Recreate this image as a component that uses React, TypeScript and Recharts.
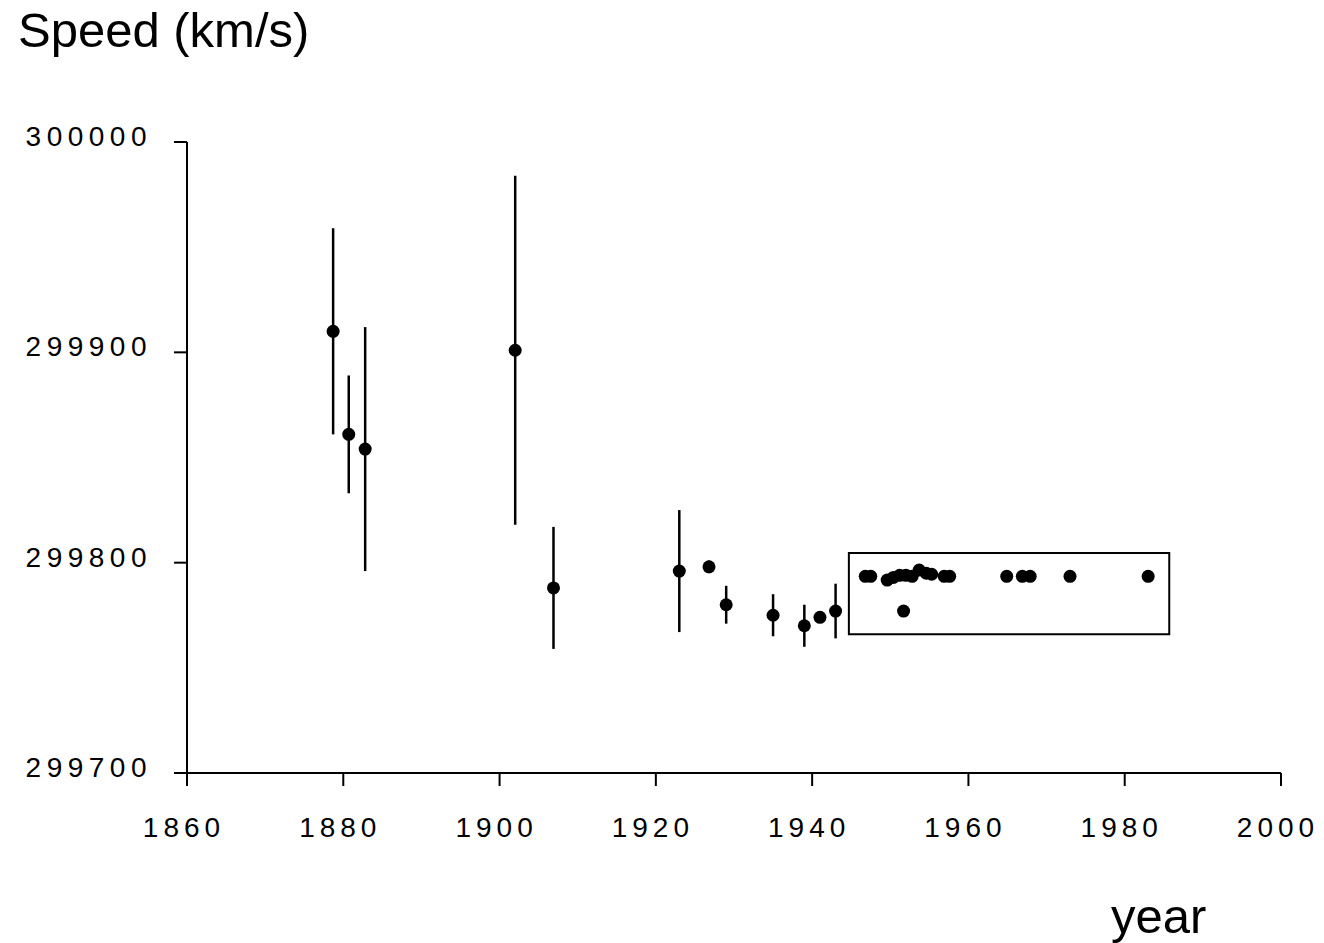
import React from 'react';
import { ScatterChart, Scatter, XAxis, YAxis, ErrorBar, ReferenceArea } from 'recharts';

// Measurement year, measured speed of light (km/s) and its uncertainty (km/s)
const years = [
  1878.7, 1880.7, 1882.8, 1902.0, 1906.9, 1923.0, 1926.8, 1929.0, 1935.0, 1939.0, 1941.0, 1943.0,
  1946.8, 1947.5, 1949.6, 1950.4, 1951.2, 1951.7, 1952.0, 1952.8, 1953.7, 1954.6, 1955.3,
  1956.9, 1957.6, 1964.9, 1966.9, 1967.9, 1973.0, 1983.0,
];
const speeds = [
  299910, 299861, 299854, 299901, 299788, 299796, 299798, 299780, 299775, 299770, 299774, 299777,
  299793.5, 299793.5, 299791.7, 299793, 299794, 299777, 299794, 299793.5, 299796.5, 299795, 299794.5,
  299793.5, 299793.5, 299793.5, 299793.5, 299793.5, 299793.5, 299793.5,
];
const errors = [
  49, 28, 58, 83, 29, 29, 3, 9, 10, 10, 0, 13,
  0, 0, 0, 0, 0, 0, 0, 0, 0, 0, 0,
  0, 0, 0, 0, 0, 0, 0,
];

const xTicks = [1860, 1880, 1900, 1920, 1940, 1960, 1980, 2000];
const yTicks = [299700, 299800, 299900, 300000];

// highlighted region of modern measurements
const boxYears = [1944.7, 1985.7];
const boxSpeeds = [299766, 299804.6];

const data = years.map((year, i) => ({ year, speed: speeds[i], err: errors[i] }));

const FONT = '"Liberation Sans", Arial, sans-serif';

const XTick = (props: any) => {
  const { x, y, payload } = props;
  return (
    <text x={x} y={y + 51} dx={-3} textAnchor="middle" fill="#000" fontSize={28} fontFamily={FONT} letterSpacing={5}>
      {payload.value}
    </text>
  );
};

const YTick = (props: any) => {
  const { x, y, payload } = props;
  return (
    <text x={x} y={y + 4} textAnchor="end" fill="#000" fontSize={28} fontFamily={FONT} letterSpacing={5.5}>
      {payload.value}
    </text>
  );
};

const Dot = (props: any) => {
  const { cx, cy } = props;
  return <circle cx={cx} cy={cy} r={6.5} fill="#000" />;
};

const TitleLabel = (props: any) => {
  const vb = props.viewBox || { x: 0, y: 142 };
  return (
    <text x={vb.x + 18} y={vb.y - 95} fill="#000" fontSize={49} fontFamily={FONT}>
      Speed (km/s)
    </text>
  );
};

const YearLabel = (props: any) => {
  const vb = props.viewBox || { x: 187, y: 773, width: 1094 };
  return (
    <text x={vb.x + vb.width - 170} y={vb.y + 160} fill="#000" fontSize={49} fontFamily={FONT}>
      year
    </text>
  );
};

export default function App() {
  return (
    <div style={{ position: 'absolute', left: 0, top: 0, width: 1324, height: 943, background: '#fff' }}>
      <ScatterChart width={1324} height={943} margin={{ top: 142, right: 43, bottom: 140, left: 0 }}>
        <XAxis
          type="number"
          dataKey="year"
          domain={[1860, 2000]}
          ticks={xTicks}
          interval={0}
          allowDataOverflow
          height={30}
          tickSize={13}
          tickMargin={0}
          tick={<XTick />}
          axisLine={{ stroke: '#000', strokeWidth: 2 }}
          tickLine={{ stroke: '#000', strokeWidth: 2 }}
          label={<YearLabel />}
        />
        <YAxis
          type="number"
          dataKey="speed"
          domain={[299700, 300000]}
          ticks={yTicks}
          interval={0}
          allowDataOverflow
          width={187}
          tickSize={13}
          tickMargin={22}
          tick={<YTick />}
          axisLine={{ stroke: '#000', strokeWidth: 2 }}
          tickLine={{ stroke: '#000', strokeWidth: 2 }}
          label={<TitleLabel />}
        />
        <ReferenceArea
          x1={boxYears[0]}
          x2={boxYears[1]}
          y1={boxSpeeds[0]}
          y2={boxSpeeds[1]}
          fill="none"
          fillOpacity={0}
          stroke="#000"
          strokeWidth={2}
          ifOverflow="visible"
        />
        <Scatter data={data} shape={<Dot />} isAnimationActive={false}>
          <ErrorBar dataKey="err" direction="y" width={0} stroke="#000" strokeWidth={2.5} isAnimationActive={false} />
        </Scatter>
      </ScatterChart>
    </div>
  );
}
